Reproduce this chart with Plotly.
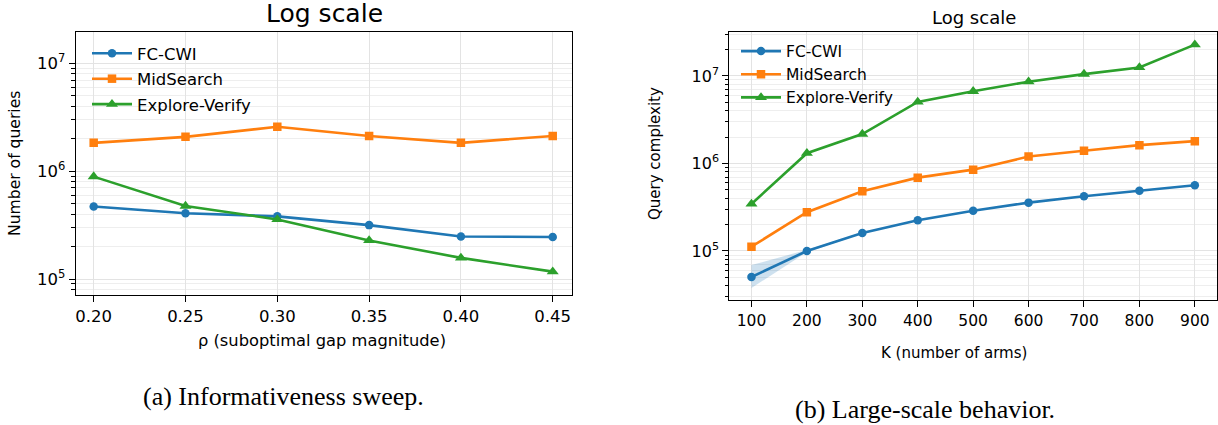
import plotly.graph_objects as go

# ---------------- data ----------------
rho = [0.20, 0.25, 0.30, 0.35, 0.40, 0.45]
rho_labels = ["0.20", "0.25", "0.30", "0.35", "0.40", "0.45"]
a_fccwi = [4.7e5, 4.07e5, 3.81e5, 3.16e5, 2.48e5, 2.45e5]
a_midsearch = [1.83e6, 2.08e6, 2.58e6, 2.12e6, 1.83e6, 2.12e6]
a_explore = [8.9e5, 4.75e5, 3.57e5, 2.28e5, 1.57e5, 1.17e5]

K = [100, 200, 300, 400, 500, 600, 700, 800, 900]
b_fccwi = [5.05e4, 1.0e5, 1.61e5, 2.24e5, 2.89e5, 3.57e5, 4.22e5, 4.89e5, 5.63e5]
b_fccwi_lo = [3.78e4, 0.97e5, 1.58e5, 2.21e5, 2.86e5, 3.53e5, 4.18e5, 4.84e5, 5.57e5]
b_fccwi_hi = [6.9e4, 1.03e5, 1.64e5, 2.27e5, 2.92e5, 3.61e5, 4.26e5, 4.94e5, 5.69e5]
b_midsearch = [1.12e5, 2.77e5, 4.81e5, 6.89e5, 8.5e5, 1.2e6, 1.40e6, 1.62e6, 1.80e6]
b_explore = [3.45e5, 1.31e6, 2.17e6, 5.05e6, 6.68e6, 8.6e6, 1.05e7, 1.25e7, 2.28e7]

series_names = ["FC-CWI", "MidSearch", "Explore-Verify"]
colors = ["#1f77b4", "#ff7f0e", "#2ca02c"]
symbols = ["circle", "square", "triangle-up"]
msizes = [8.5, 8.5, 10.5]

W, H = 1218, 425
FONT = "DejaVu Sans"

def px_x(p):
    return p / W

def px_y(p):
    return 1 - p / H

fig = go.Figure()

# band for FC-CWI (right panel)
fig.add_trace(go.Scatter(x=K, y=b_fccwi_hi, mode="lines", line=dict(width=0),
                         showlegend=False, hoverinfo="skip", xaxis="x2", yaxis="y2"))
fig.add_trace(go.Scatter(x=K, y=b_fccwi_lo, mode="lines", line=dict(width=0),
                         fill="tonexty", fillcolor="rgba(31,119,180,0.22)",
                         showlegend=False, hoverinfo="skip", xaxis="x2", yaxis="y2"))

left_vals = [a_fccwi, a_midsearch, a_explore]
right_vals = [b_fccwi, b_midsearch, b_explore]
for i in range(3):
    fig.add_trace(go.Scatter(
        x=rho, y=left_vals[i], name=series_names[i], mode="lines+markers",
        line=dict(color=colors[i], width=2.6),
        marker=dict(symbol=symbols[i], size=msizes[i], color=colors[i]),
        xaxis="x", yaxis="y", legend="legend", legendgroup="a%d" % i))
for i in range(3):
    fig.add_trace(go.Scatter(
        x=K, y=right_vals[i], name=series_names[i], mode="lines+markers",
        line=dict(color=colors[i], width=2.6),
        marker=dict(symbol=symbols[i], size=msizes[i], color=colors[i]),
        xaxis="x2", yaxis="y2", legend="legend2", legendgroup="b%d" % i))

def minor_vals(lo_exp, hi_exp):
    return [m * 10 ** e for e in range(lo_exp, hi_exp + 1) for m in range(2, 10)]

grid_major = "#e3e3e3"
grid_minor = "#eeeeee"

common_axis = dict(showline=True, linecolor="black", linewidth=1.2, mirror=True,
                   ticks="outside", ticklen=6, tickwidth=1.1, tickcolor="black",
                   showgrid=True, gridcolor=grid_major, gridwidth=1, zeroline=False)

fig.update_layout(
    width=W, height=H, margin=dict(l=0, r=0, t=0, b=0),
    paper_bgcolor="white", plot_bgcolor="white",
    font=dict(family=FONT, color="black"),
    xaxis=dict(domain=[px_x(75.7), px_x(572)], range=[0.1902, 0.4605],
               tickvals=rho, ticktext=rho_labels, anchor="y",
               tickfont=dict(size=16.5, family=FONT), **common_axis),
    yaxis=dict(domain=[px_y(295.3), px_y(31.7)], type="log", range=[4.849, 7.293],
               tickvals=[1e5, 1e6, 1e7],
               ticktext=["10<sup>5</sup>", "10<sup>6</sup>", "10<sup>7</sup>"],
               anchor="x", tickfont=dict(size=16.5, family=FONT),
               minor=dict(tickvals=minor_vals(4, 7), ticks="outside", ticklen=3.5,
                          tickcolor="black", showgrid=True, gridcolor=grid_minor),
               **common_axis),
    xaxis2=dict(domain=[px_x(729.3), px_x(1217)], range=[60, 940],
                tickvals=K, anchor="y2",
                tickfont=dict(size=15.5, family=FONT), **common_axis),
    yaxis2=dict(domain=[px_y(300), px_y(32.3)], type="log", range=[4.44, 7.499],
                tickvals=[1e5, 1e6, 1e7],
                ticktext=["10<sup>5</sup>", "10<sup>6</sup>", "10<sup>7</sup>"],
                anchor="x2", tickfont=dict(size=16, family=FONT),
                minor=dict(tickvals=minor_vals(4, 7), ticks="outside", ticklen=3.5,
                           tickcolor="black", showgrid=True, gridcolor=grid_minor),
                **common_axis),
    legend=dict(x=px_x(87), y=px_y(36), xanchor="left", yanchor="top",
                bgcolor="rgba(255,255,255,0)", font=dict(size=16.5, family=FONT),
                itemwidth=40, tracegroupgap=1),
    legend2=dict(x=px_x(736), y=px_y(34.5), xanchor="left", yanchor="top",
                 bgcolor="rgba(255,255,255,0)", font=dict(size=15.5, family=FONT),
                 itemwidth=40, tracegroupgap=0),
)

annotations = [
    dict(text="Log scale", x=px_x(324), y=px_y(13), font=dict(size=25, family=FONT)),
    dict(text="Log scale", x=px_x(974), y=px_y(17.5), font=dict(size=18, family=FONT)),
    dict(text="\u03c1 (suboptimal gap magnitude)", x=px_x(322), y=px_y(340),
         font=dict(size=16.3, family=FONT)),
    dict(text="Number of queries", x=px_x(15), y=px_y(164), textangle=-90,
         font=dict(size=15.6, family=FONT)),
    dict(text="K (number of arms)", x=px_x(954), y=px_y(353),
         font=dict(size=15, family=FONT)),
    dict(text="Query complexity", x=px_x(655), y=px_y(154), textangle=-90,
         font=dict(size=15, family=FONT)),
    dict(text="(a) Informativeness sweep.", x=px_x(283), y=px_y(396),
         font=dict(size=26, family="Liberation Serif")),
    dict(text="(b) Large-scale behavior.", x=px_x(925), y=px_y(409),
         font=dict(size=26, family="Liberation Serif")),
]
for a in annotations:
    a.update(xref="paper", yref="paper", showarrow=False, xanchor="center", yanchor="middle")
fig.update_layout(annotations=annotations)

fig.write_html("out.html")
